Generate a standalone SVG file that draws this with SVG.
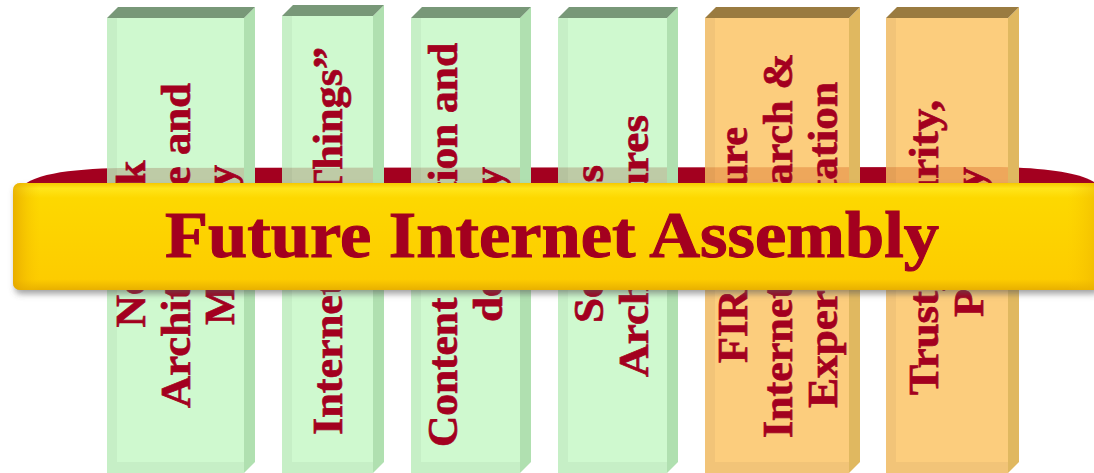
<svg xmlns="http://www.w3.org/2000/svg" width="1094" height="473" viewBox="0 0 1094 473">
<style>
.fg{fill:#c4f8c4;fill-opacity:0.82}
.sg{fill:#b0e0b0}
.tg{fill:#789878}
.fo{fill:#fcc466;fill-opacity:0.85}
.so{fill:#e0b860}
.to{fill:#9a7b40}
.edge{fill:#000;fill-opacity:0.04}
.pt{font-family:"Liberation Serif","DejaVu Serif",serif;font-weight:bold;font-size:42px;fill:#a3001f;stroke:#a3001f;stroke-width:0.7;text-anchor:middle}
.bt{font-family:"Liberation Serif","DejaVu Serif",serif;font-weight:bold;font-size:65px;fill:#a3001f;stroke:#a3001f;stroke-width:1;text-anchor:middle}
</style>
<defs>
<linearGradient id="bannerV" x1="0" y1="0" x2="0" y2="1">
<stop offset="0" stop-color="#f6c800"/>
<stop offset="0.05" stop-color="#ffe51a"/>
<stop offset="0.14" stop-color="#fdd800"/>
<stop offset="0.9" stop-color="#fdcc00"/>
<stop offset="1" stop-color="#e8b000"/>
</linearGradient>
<linearGradient id="bannerH" x1="0" y1="0" x2="1" y2="0">
<stop offset="0" stop-color="#e0a000" stop-opacity="0.7"/>
<stop offset="0.025" stop-color="#f8c400" stop-opacity="0"/>
<stop offset="0.97" stop-color="#f8c400" stop-opacity="0"/>
<stop offset="1" stop-color="#e8b000" stop-opacity="0.6"/>
</linearGradient>
<filter id="shadow" x="-5%" y="-20%" width="110%" height="150%">
<feGaussianBlur stdDeviation="3"/>
</filter>
</defs>
<rect width="1094" height="473" fill="#ffffff"/>

<path id="ribbon" d="M18,192 C26,174 70,169 120,168 L1000,167 C1050,168 1082,174 1094,182 L1094,192 Z" fill="#a3001f"/>

<g id="pillar1">
<rect class="fg" x="107" y="18" width="137" height="455"/>
<rect class="edge" x="107" y="18" width="10" height="455"/>
<rect class="edge" x="117" y="462" width="127" height="11"/>
<polygon class="sg" points="244,18 255,7 255,462 244,473"/>
<polygon class="tg" points="107,18 118,7 255,7 244,18"/>
<text class="pt" transform="translate(145,244) rotate(-90)" textLength="167" lengthAdjust="spacingAndGlyphs">Network</text>
<text class="pt" transform="translate(190,245.5) rotate(-90)" textLength="325" lengthAdjust="spacingAndGlyphs">Architecture and</text>
<text class="pt" transform="translate(234,245) rotate(-90)" textLength="160" lengthAdjust="spacingAndGlyphs">Mobility</text>
</g>

<g id="pillar2">
<rect class="fg" x="282" y="16" width="91" height="457"/>
<rect class="edge" x="282" y="16" width="10" height="457"/>
<rect class="edge" x="292" y="462" width="81" height="11"/>
<polygon class="sg" points="373,16 384,5 384,462 373,473"/>
<polygon class="tg" points="282,16 293,5 384,5 373,16"/>
<text class="pt" transform="translate(342,241) rotate(-90)" textLength="388" lengthAdjust="spacingAndGlyphs">Internet of “Things”</text>
</g>

<g id="pillar3">
<rect class="fg" x="411" y="18" width="109" height="455"/>
<rect class="edge" x="411" y="18" width="10" height="455"/>
<rect class="edge" x="421" y="462" width="99" height="11"/>
<polygon class="sg" points="520,18 531,7 531,462 520,473"/>
<polygon class="tg" points="411,18 422,7 531,7 520,18"/>
<text class="pt" transform="translate(457,245) rotate(-90)" textLength="404" lengthAdjust="spacingAndGlyphs">Content Creation and</text>
<text class="pt" transform="translate(502,244.5) rotate(-90)" textLength="155" lengthAdjust="spacingAndGlyphs">delivery</text>
</g>

<g id="pillar4">
<rect class="fg" x="558" y="18" width="109" height="455"/>
<rect class="edge" x="558" y="18" width="10" height="455"/>
<rect class="edge" x="568" y="462" width="99" height="11"/>
<polygon class="sg" points="667,18 678,7 678,462 667,473"/>
<polygon class="tg" points="558,18 569,7 678,7 667,18"/>
<text class="pt" transform="translate(603,244) rotate(-90)" textLength="158" lengthAdjust="spacingAndGlyphs">Services</text>
<text class="pt" transform="translate(648,246) rotate(-90)" textLength="262" lengthAdjust="spacingAndGlyphs">Architectures</text>
</g>

<g id="pillar5">
<rect class="fo" x="705" y="18" width="144" height="455"/>
<rect class="edge" x="705" y="18" width="10" height="455"/>
<rect class="edge" x="715" y="462" width="134" height="11"/>
<polygon class="so" points="849,18 860,7 860,462 849,473"/>
<polygon class="to" points="705,18 716,7 860,7 849,18"/>
<text class="pt" transform="translate(747,245) rotate(-90)" textLength="236" lengthAdjust="spacingAndGlyphs">FIRE Future</text>
<text class="pt" transform="translate(792,245.5) rotate(-90)" textLength="385" lengthAdjust="spacingAndGlyphs">Internet Research &amp;</text>
<text class="pt" transform="translate(837,245) rotate(-90)" textLength="326" lengthAdjust="spacingAndGlyphs">Experimentation</text>
</g>

<g id="pillar6">
<rect class="fo" x="886" y="18" width="122" height="455"/>
<rect class="edge" x="886" y="18" width="10" height="455"/>
<rect class="edge" x="896" y="462" width="112" height="11"/>
<polygon class="so" points="1008,18 1019,7 1019,462 1008,473"/>
<polygon class="to" points="886,18 897,7 1019,7 1008,18"/>
<text class="pt" transform="translate(938,247.5) rotate(-90)" textLength="295" lengthAdjust="spacingAndGlyphs">Trust, Security,</text>
<text class="pt" transform="translate(983,242) rotate(-90)" textLength="150" lengthAdjust="spacingAndGlyphs">Privacy</text>
</g>

<g id="banner">
<rect x="15" y="187" width="1085" height="107" rx="6" fill="#555" fill-opacity="0.55" filter="url(#shadow)"/>
<rect x="13" y="183" width="1087" height="107" rx="7" fill="url(#bannerV)"/>
<rect x="13" y="183" width="1087" height="107" rx="7" fill="url(#bannerH)"/>
<text class="bt" x="552" y="257" textLength="774" lengthAdjust="spacingAndGlyphs">Future Internet Assembly</text>
</g>
</svg>
